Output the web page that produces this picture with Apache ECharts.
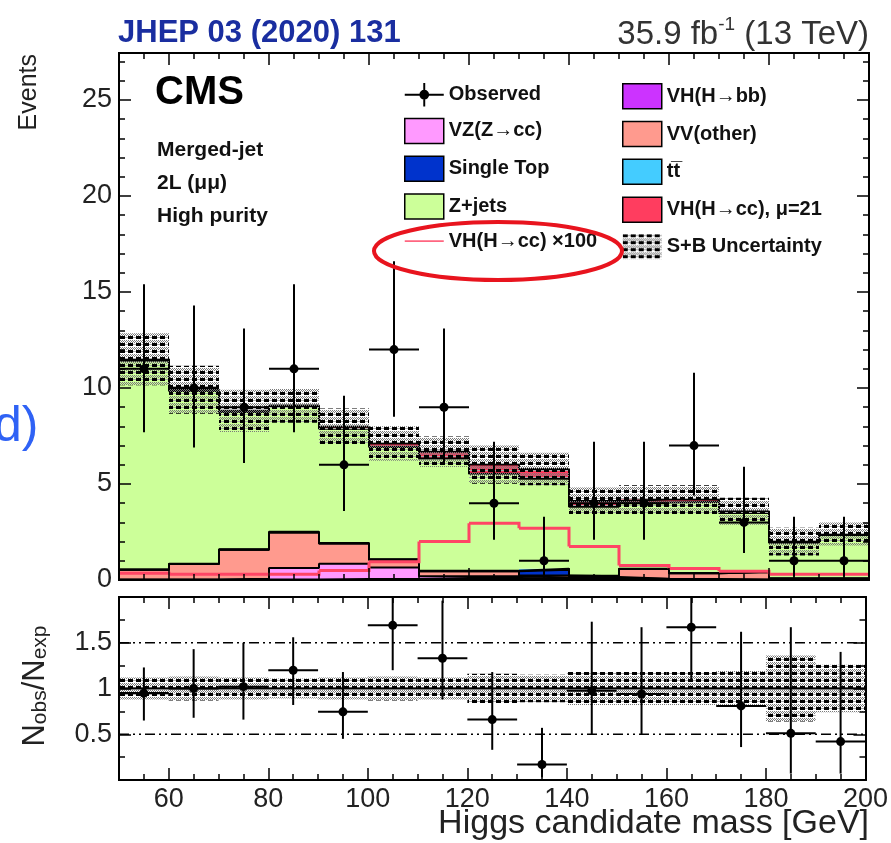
<!DOCTYPE html>
<html>
<head>
<meta charset="utf-8">
<script src="https://cdn.jsdelivr.net/npm/echarts@6/dist/echarts.min.js"></script>
<style>html,body{margin:0;padding:0;background:#fff}#c{width:891px;height:843px}</style>
</head>
<body>
<div id="c"></div>
<script>
// ---------------- data ----------------
const binLow = [50,60,70,80,90,100,110,120,130,140,150,160,170,180,190];
const binWidth = 10;
const vhbb      = [0.01,0.01,0.02,0.03,0.05,0.05,0.10,0.10,0.08,0.10,0.05,0.03,0.01,0.01,0.01];
const vzcc      = [0.02,0.02,0.05,0.60,0.80,0.60,0.10,0.10,0.05,0.05,0.02,0.02,0.01,0.01,0.01];
const vvOther   = [0.50,0.80,1.50,1.85,1.05,0.40,0.25,0.25,0.10,0.05,0.50,0.30,0.40,0.05,0.05];
const singleTop = [0,0,0,0,0,0,0,0,0.30,0,0,0,0,0,0];
const ttbar     = [0.02,0.02,0.03,0.03,0.03,0.03,0.03,0.03,0.05,0.02,0.02,0.02,0.02,0.02,0.02];
const zjets     = [10.87,9.0,7.15,6.5,5.95,5.85,5.85,5.05,4.7,3.6,3.45,3.7,3.05,1.85,2.25];
const vhcc21    = [0.08,0.06,0.06,0.08,0.10,0.18,0.35,0.48,0.50,0.30,0.15,0.12,0.09,0.06,0.06];
const vhccX100  = [0.35,0.30,0.30,0.30,0.50,0.95,2.0,2.95,2.7,1.75,0.75,0.6,0.45,0.3,0.3];
const bkgUnc    = [1.35,1.25,1.1,0.9,0.95,0.9,0.8,1.0,0.85,0.7,0.75,0.75,0.7,0.72,0.6];
const observed  = [11,10,9,11,6,12,9,4,1,4,4,7,3,1,1];
const obsErrUp  = [4.4,4.3,4.1,4.4,3.6,4.6,4.1,3.2,2.3,3.2,3.2,3.8,2.9,2.3,2.3];
const obsErrDn  = [3.3,3.1,2.9,3.3,2.4,3.5,2.9,1.9,0.83,1.9,1.9,2.6,1.6,0.83,0.83];
const ratio      = [0.95,1.0,1.02,1.2,0.745,1.69,1.33,0.66,0.17,0.975,0.94,1.67,0.81,0.51,0.42];
const ratioErrUp = [0.28,0.43,0.48,0.36,0.435,0.65,0.63,0.52,0.40,0.755,0.73,0.9,0.81,1.16,0.98];
const ratioErrDn = [0.30,0.32,0.36,0.38,0.295,0.49,0.45,0.33,0.14,0.475,0.44,0.58,0.45,0.44,0.35];
const ratioBand  = [0.12,0.13,0.12,0.11,0.12,0.13,0.12,0.16,0.15,0.18,0.18,0.18,0.19,0.36,0.26];
const xTickLabels = [60,80,100,120,140,160,180,200];
const xMinorTicks = [55,60,65,70,75,80,85,90,95,100,105,110,115,120,125,130,135,140,145,150,155,160,165,170,175,180,185,190,195];
const yMainLabels = [0,5,10,15,20,25];
const yMainMinor  = [1,2,3,4,6,7,8,9,11,12,13,14,16,17,18,19,21,22,23,24,26,27];
const yRatioLabels = [0.5,1,1.5];
const yRatioMinor  = [0.25,0.75,1.25,1.75];
const ratioRefLines = [0.5,1.5];

const FONT = 'Liberation Sans, Arial, Helvetica, sans-serif';

// ---------------- helpers ----------------
function makePattern(){
  const c = document.createElement('canvas');
  c.width = 8; c.height = 7;
  const g = c.getContext('2d');
  g.fillStyle = '#000';
  g.fillRect(0,0,5,3);
  g.fillStyle = '#7a7a7a';
  for (let x = 0; x < 8; x++) {
    if (x % 2 === 0) { g.fillRect(x,4,1,1); g.fillRect(x,6,1,1); }
    else { g.fillRect(x,5,1,1); }
  }
  g.fillStyle = '#a8a8a8';
  g.fillRect(5,1,3,1);
  return {image: c, repeat: 'repeat'};
}
const pattern = makePattern();

const comps = [
  {name:'VH(H\u2192bb)', vals: vhbb, color:'#cc33ff'},
  {name:'VZ(Z\u2192cc)', vals: vzcc, color:'#ff99ff'},
  {name:'VV(other)', vals: vvOther, color:'#ff9a8e'},
  {name:'Single Top', vals: singleTop, color:'#0033cc'},
  {name:'tt\u0305', vals: ttbar, color:'#44ccff'},
  {name:'Z+jets', vals: zjets, color:'#ccff99'},
  {name:'VH(H\u2192cc), \u03bc=21', vals: vhcc21, color:'#ff3d5f'}
];
let base = binLow.map(() => 0);
comps.forEach(c => {
  c.data = binLow.map((lo, i) => [lo, lo + binWidth, base[i], base[i] + c.vals[i]]);
  base = base.map((b, i) => b + c.vals[i]);
  c.top = base.slice();
});
const total = base;

function stepData(vals){
  const d = binLow.map((lo, i) => [lo, vals[i]]);
  d.push([binLow[binLow.length-1] + binWidth, vals[vals.length-1]]);
  return d;
}

function binRect(params, api){
  const p0 = api.coord([api.value(0), api.value(3)]);
  const p1 = api.coord([api.value(1), api.value(2)]);
  return {type:'rect', shape:{x:p0[0], y:p0[1], width:p1[0]-p0[0], height:p1[1]-p0[1]},
          style:{fill: api.visual('color')}};
}
function bandRect(params, api){
  const p0 = api.coord([api.value(0), api.value(3)]);
  const p1 = api.coord([api.value(1), api.value(2)]);
  return {type:'rect', shape:{x:p0[0], y:p0[1], width:p1[0]-p0[0], height:p1[1]-p0[1]},
          style:{fill: pattern}};
}
function stepLine(params, api){
  const a = api.coord([api.value(0), api.value(2)]);
  const b = api.coord([api.value(1), api.value(2)]);
  const n = api.coord([api.value(1), api.value(3)]);
  return {type:'polyline', shape:{points:[a, b, n]},
          style:{stroke:'#ff4565', lineWidth:3, fill:null}};
}
function obsItem(params, api){
  const x = api.value(0), y = api.value(1), up = api.value(2), dn = api.value(3), hw = api.value(4);
  const c = api.coord([x, y]);
  const t = api.coord([x, y + up]);
  const b = api.coord([x, Math.max(y - dn, 0)]);
  const l = api.coord([x - hw, y]);
  const r = api.coord([x + hw, y]);
  return {type:'group', children:[
    {type:'line', shape:{x1:c[0], y1:t[1], x2:c[0], y2:b[1]}, style:{stroke:'#000', lineWidth:2}},
    {type:'line', shape:{x1:l[0], y1:c[1], x2:r[0], y2:c[1]}, style:{stroke:'#000', lineWidth:2}},
    {type:'circle', shape:{cx:c[0], cy:c[1], r:4.5}, style:{fill:'#000'}}
  ]};
}

// ---------------- axes ----------------
const tickStyle = {color:'#000', width:1.5};
function xAx(grid, pos, ticks, len, labels){
  return {type:'value', gridIndex:grid, position:pos, min:50, max:200, z:10,
    splitLine:{show:false},
    axisLine:{show:true, onZero:false, lineStyle:{color:'#000', width:2}},
    axisTick:{show:true, inside:true, length:len, customValues:ticks, lineStyle:tickStyle},
    axisLabel: labels ? {show:true, customValues:labels, fontSize:27, color:'#222', fontFamily:FONT, margin:6} : {show:false}};
}
function yAx(grid, pos, min, max, ticks, len, labels){
  return {type:'value', gridIndex:grid, position:pos, min:min, max:max, z:10,
    splitLine:{show:false},
    axisLine:{show:true, onZero:false, lineStyle:{color:'#000', width:2}},
    axisTick:{show:true, inside:true, length:len, customValues:ticks, lineStyle:tickStyle},
    axisLabel: labels ? {show:true, customValues:labels, fontSize:27, color:'#222', fontFamily:FONT, margin:7} : {show:false}};
}
const YMAX = 27.45;
const xAxes = [
  xAx(0,'bottom',xMinorTicks,6,null), xAx(0,'bottom',xTickLabels,12,null),
  xAx(0,'top',xMinorTicks,6,null),    xAx(0,'top',xTickLabels,12,null),
  xAx(1,'bottom',xMinorTicks,6,null), xAx(1,'bottom',xTickLabels,12,xTickLabels),
  xAx(1,'top',xMinorTicks,6,null),    xAx(1,'top',xTickLabels,12,null)
];
const yAxes = [
  yAx(0,'left',0,YMAX,yMainMinor,6,null),  yAx(0,'left',0,YMAX,yMainLabels,12,yMainLabels),
  yAx(0,'right',0,YMAX,yMainMinor,6,null), yAx(0,'right',0,YMAX,yMainLabels,12,null),
  yAx(1,'left',0,2,yRatioMinor,6,null),    yAx(1,'left',0,2,yRatioLabels,12,yRatioLabels),
  yAx(1,'right',0,2,yRatioMinor,6,null),   yAx(1,'right',0,2,yRatioLabels,12,null)
];

// ---------------- series ----------------
const series = [];
comps.forEach(c => {
  series.push({type:'custom', name:c.name, xAxisIndex:0, yAxisIndex:0, z:2, clip:true,
    itemStyle:{color:c.color}, renderItem:binRect, data:c.data, silent:true});
});
comps.forEach(c => {
  series.push({type:'line', name:'outline '+c.name, xAxisIndex:0, yAxisIndex:0, z:3, step:'end',
    showSymbol:false, symbol:'none', silent:true, lineStyle:{color:'#000', width:2},
    data: stepData(c.top)});
});
series.push({type:'custom', name:'VH(H\u2192cc) \u00d7100', xAxisIndex:0, yAxisIndex:0, z:4, clip:true,
  itemStyle:{color:'#ff4565'}, renderItem:stepLine, silent:true,
  data: binLow.map((lo, i) => [lo, lo + binWidth, vhccX100[i], i < binLow.length-1 ? vhccX100[i+1] : vhccX100[i]])});
series.push({type:'custom', name:'S+B Uncertainty', xAxisIndex:0, yAxisIndex:0, z:5, clip:true,
  itemStyle:{color:pattern}, renderItem:bandRect, silent:true,
  data: binLow.map((lo, i) => [lo, lo + binWidth, total[i] - bkgUnc[i], total[i] + bkgUnc[i]])});
series.push({type:'custom', name:'Observed', xAxisIndex:0, yAxisIndex:0, z:6, clip:true,
  itemStyle:{color:'#000'}, renderItem:obsItem, silent:true,
  data: binLow.map((lo, i) => [lo + binWidth/2, observed[i], obsErrUp[i], obsErrDn[i], binWidth/2])});
// ratio panel
series.push({type:'custom', name:'ratio band', xAxisIndex:4, yAxisIndex:4, z:5, clip:true,
  renderItem:bandRect, silent:true,
  data: binLow.map((lo, i) => [lo, lo + binWidth, 1 - ratioBand[i], 1 + ratioBand[i]])});
ratioRefLines.forEach(v => {
  series.push({type:'line', name:'ref '+v, xAxisIndex:4, yAxisIndex:4, z:4, showSymbol:false, symbol:'none', silent:true,
    lineStyle:{color:'#000', width:1.5, type:[10,4,2,4,2,4]}, data:[[50,v],[200,v]]});
});
series.push({type:'line', name:'unity', xAxisIndex:4, yAxisIndex:4, z:6, showSymbol:false, symbol:'none', silent:true,
  lineStyle:{color:'#000', width:2}, data:[[50,1],[200,1]]});
series.push({type:'custom', name:'ratio obs', xAxisIndex:4, yAxisIndex:4, z:7, clip:true,
  renderItem:obsItem, silent:true,
  data: binLow.map((lo, i) => [lo + binWidth/2, ratio[i], ratioErrUp[i], ratioErrDn[i], binWidth/2])});

// ---------------- legend ----------------
const boxStyle = c => ({color:c, borderColor:'#000', borderWidth:1.5});
const legendText = {fontFamily:FONT, fontSize:20, fontWeight:'bold', color:'#111', padding:[0,0,0,0]};
const legendCommon = {orient:'vertical', top:78, itemWidth:39, itemHeight:25, itemGap:11.3,
  selectedMode:false, textStyle:legendText, z:20};
const legends = [
  Object.assign({}, legendCommon, {left:399, data:[
    {name:'Observed', icon:'path://M0,11h40v2h-40z M19,0h2v24h-2z M15,12a5,5 0 1,1 10,0a5,5 0 1,1 -10,0z', itemStyle:{color:'#000', borderWidth:0}},
    {name:'VZ(Z\u2192cc)', icon:'rect', itemStyle:boxStyle('#ff99ff')},
    {name:'Single Top', icon:'rect', itemStyle:boxStyle('#0033cc')},
    {name:'Z+jets', icon:'rect', itemStyle:boxStyle('#ccff99')},
    {name:'VH(H\u2192cc) \u00d7100', icon:'path://M0,0h40v2h-40z', itemStyle:{color:'#ff6680', borderWidth:0}}
  ]}),
  Object.assign({}, legendCommon, {left:617, data:[
    {name:'VH(H\u2192bb)', icon:'rect', itemStyle:boxStyle('#cc33ff')},
    {name:'VV(other)', icon:'rect', itemStyle:boxStyle('#ff9a8e')},
    {name:'tt\u0305', icon:'rect', itemStyle:boxStyle('#44ccff')},
    {name:'VH(H\u2192cc), \u03bc=21', icon:'rect', itemStyle:boxStyle('#ff3d5f')},
    {name:'S+B Uncertainty', icon:'rect', itemStyle:{color:pattern, borderWidth:0}}
  ]})
];

// ---------------- texts ----------------
const graphic = [
  {type:'text', x:118, y:33, z:50, style:{text:'JHEP 03 (2020) 131', font:'bold 31px '+FONT, fill:'#1a2ea0', textVerticalAlign:'middle'}},
  {type:'text', x:869, y:33, z:50, style:{text:'{n|35.9 fb}{s|-1}{n| (13 TeV)}', textAlign:'right', textVerticalAlign:'middle',
    rich:{n:{fontFamily:FONT, fontSize:33, lineHeight:36, fill:'#333', verticalAlign:'bottom'},
          s:{fontFamily:FONT, fontSize:19, lineHeight:36, fill:'#333', verticalAlign:'top', padding:[0,0,14,0]}}}},
  {type:'text', x:155, y:93, z:50, style:{text:'CMS', font:'bold 40px '+FONT, fill:'#000', textVerticalAlign:'middle'}},
  {type:'text', x:157, y:150, z:50, style:{text:'Merged-jet', font:'bold 21px '+FONT, fill:'#111', textVerticalAlign:'middle'}},
  {type:'text', x:157, y:183, z:50, style:{text:'2L (\u03bc\u03bc)', font:'bold 21px '+FONT, fill:'#111', textVerticalAlign:'middle'}},
  {type:'text', x:157, y:216, z:50, style:{text:'High purity', font:'bold 21px '+FONT, fill:'#111', textVerticalAlign:'middle'}},
  {type:'text', x:29, y:54, z:50, rotation:Math.PI/2, style:{text:'Events', font:'25px '+FONT, fill:'#222', textAlign:'right', textVerticalAlign:'middle'}},
  {type:'text', x:33, y:686, z:50, rotation:Math.PI/2, style:{text:'{a|N}{b|obs}{a|/N}{b|exp}', textAlign:'center', textVerticalAlign:'middle',
    rich:{a:{fontFamily:FONT, fontSize:31, lineHeight:36, fill:'#222', verticalAlign:'bottom'},
          b:{fontFamily:FONT, fontSize:21, lineHeight:20, fill:'#222', verticalAlign:'bottom'}}}},
  {type:'text', x:869, y:824, z:50, style:{text:'Higgs candidate mass [GeV]', font:'34px '+FONT, fill:'#222', textAlign:'right', textVerticalAlign:'middle'}},
  {type:'text', x:-6, y:427, z:50, style:{text:'d)', font:'50px '+FONT, fill:'#2f62f5', textVerticalAlign:'middle'}},
  {type:'ellipse', z:60, shape:{cx:498, cy:251, rx:124, ry:29}, style:{stroke:'#e8141e', lineWidth:4, fill:null}}
];

const option = {
  animation:false,
  backgroundColor:'#fff',
  grid:[
    {left:119, top:53, width:750, height:527, show:false},
    {left:119, top:597, width:750, height:183, show:false}
  ],
  xAxis:xAxes,
  yAxis:yAxes,
  legend:legends,
  series:series,
  graphic:graphic
};
const chart = echarts.init(document.getElementById('c'));
chart.setOption(option);
</script>
</body>
</html>
